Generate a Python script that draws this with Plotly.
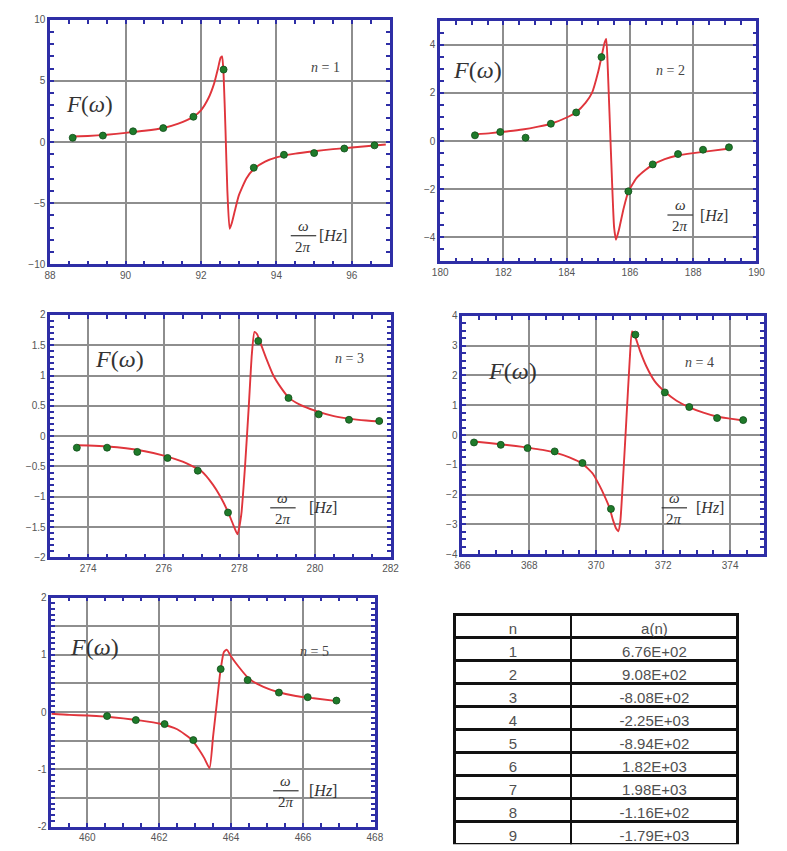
import plotly.graph_objects as go

W, H = 787, 851

# ---------------- data ----------------
# measured points (green) and fitted response curve (red) for each mode n

n1_pts_x = [88.6, 89.4, 90.2, 91.0, 91.8, 92.6, 93.4, 94.2, 95.0, 95.8, 96.6]
n1_pts_y = [0.35, 0.53, 0.88, 1.14, 2.07, 5.93, -2.1, -1.04, -0.9, -0.53, -0.27]
n1_fit_x = [88.6, 89.0, 89.5, 90.0, 90.5, 91.0, 91.4, 91.8, 92.0, 92.2, 92.35, 92.45,
            92.52, 92.56, 92.6, 92.65, 92.7, 92.76, 92.82, 92.9, 93.0, 93.2, 93.4,
            93.7, 94.0, 94.5, 95.0, 95.5, 96.0, 96.6, 96.9]
n1_fit_y = [0.45, 0.5, 0.6, 0.75, 0.92, 1.15, 1.5, 2.08, 2.6, 3.6, 4.8, 6.0,
            6.9, 7.0, 5.5, 1.0, -4.0, -7.1, -6.6, -5.6, -4.4, -3.0, -2.2,
            -1.6, -1.25, -0.95, -0.75, -0.58, -0.45, -0.28, -0.2]

n2_pts_x = [181.1, 181.9, 182.7, 183.5, 184.3, 185.1, 185.95, 186.72, 187.52, 188.31, 189.13]
n2_pts_y = [0.24, 0.38, 0.14, 0.72, 1.19, 3.49, -2.09, -0.97, -0.54, -0.36, -0.26]
n2_fit_x = [181.1, 181.6, 182.1, 182.6, 183.1, 183.5, 184.0, 184.3, 184.6, 184.8,
            185.0, 185.1, 185.2, 185.25, 185.3, 185.4, 185.5, 185.56, 185.65, 185.8,
            185.95, 186.2, 186.4, 186.7, 187.1, 187.5, 188.0, 188.5, 189.1]
n2_fit_y = [0.28, 0.33, 0.4, 0.48, 0.6, 0.72, 0.98, 1.2, 1.6, 2.0,
            2.9, 3.5, 4.1, 4.25, 3.0, -0.5, -3.6, -4.1, -3.7, -2.8,
            -2.1, -1.55, -1.3, -1.0, -0.75, -0.6, -0.5, -0.42, -0.32]

n3_pts_x = [273.7, 274.5, 275.3, 276.1, 276.9, 277.7, 278.5, 279.3, 280.1, 280.9, 281.7]
n3_pts_y = [-0.19, -0.19, -0.26, -0.36, -0.57, -1.26, 1.57, 0.63, 0.36, 0.27, 0.25]
n3_fit_x = [273.7, 274.0, 274.5, 275.0, 275.5, 276.0, 276.5, 277.0, 277.3, 277.5,
            277.7, 277.85, 277.95, 278.05, 278.15, 278.25, 278.33, 278.4, 278.47,
            278.55, 278.7, 278.9, 279.1, 279.3, 279.6, 280.0, 280.5, 281.0, 281.5, 281.8]
n3_fit_y = [-0.15, -0.155, -0.17, -0.2, -0.25, -0.32, -0.42, -0.58, -0.8, -1.0,
            -1.25, -1.48, -1.62, -1.3, -0.5, 0.5, 1.35, 1.72, 1.68,
            1.55, 1.3, 1.0, 0.8, 0.64, 0.52, 0.42, 0.33, 0.28, 0.25, 0.24]

n4_pts_x = [366.35, 367.15, 367.95, 368.76, 369.59, 370.44, 371.17, 372.05, 372.78, 373.61, 374.39]
n4_pts_y = [-0.25, -0.33, -0.44, -0.55, -0.94, -2.48, 3.37, 1.43, 0.94, 0.57, 0.5]
n4_fit_x = [366.35, 366.8, 367.2, 367.6, 368.0, 368.4, 368.8, 369.2, 369.6, 369.9,
            370.1, 370.25, 370.4, 370.5, 370.6, 370.66, 370.72, 370.8, 370.9, 371.0,
            371.07, 371.15, 371.3, 371.5, 371.75, 372.05, 372.4, 372.8, 373.2, 373.6,
            374.0, 374.45]
n4_fit_y = [-0.22, -0.27, -0.32, -0.37, -0.43, -0.5, -0.6, -0.75, -0.97, -1.3,
            -1.7, -2.05, -2.45, -2.85, -3.15, -3.23, -2.9, -1.5, 0.5, 2.5,
            3.48, 3.35, 2.85, 2.3, 1.8, 1.45, 1.15, 0.92, 0.75, 0.62,
            0.55, 0.48]

n5_pts_x = [460.55, 461.35, 462.15, 462.95, 463.71, 464.46, 465.33, 466.13, 466.93]
n5_pts_y = [-0.07, -0.14, -0.21, -0.49, 0.75, 0.56, 0.34, 0.26, 0.2]
n5_fit_x = [459.0, 459.5, 460.0, 460.5, 461.0, 461.5, 462.0, 462.5, 462.9, 463.1,
            463.25, 463.4, 463.5, 463.6, 463.7, 463.8, 463.88, 464.0, 464.2, 464.5,
            464.9, 465.3, 465.8, 466.3, 466.95]
n5_fit_y = [-0.03, -0.05, -0.06, -0.08, -0.11, -0.15, -0.2, -0.3, -0.48, -0.65,
            -0.8, -0.98, -0.42, 0.14, 0.7, 1.05, 1.09, 0.97, 0.8, 0.58,
            0.44, 0.35, 0.28, 0.24, 0.19]

# coefficient table
table_n = ["1", "2", "3", "4", "5", "6", "7", "8", "9"]
table_a = ["6.76E+02", "9.08E+02", "-8.08E+02", "-2.25E+03", "-8.94E+02",
           "1.82E+03", "1.98E+03", "-1.16E+02", "-1.79E+03"]

# ---------------- styling ----------------
FRAME = "#2e2ea6"
GRID = "#8e8e8e"
RED = "#e0353c"
GREEN = "#1f7a2a"
TICKFONT = dict(family="Liberation Sans, Arial", size=10, color="#555555")
SERIF = "Liberation Serif, Times New Roman, serif"
TABLEFONT = dict(family="Liberation Sans, Arial", size=15, color="#505050")


def px_x(p):
    return p / W


def px_y(p):
    return 1 - p / H


def label(x, y, text, size, color="#333333"):
    return dict(x=px_x(x), y=px_y(y), xref="paper", yref="paper", text=text,
                showarrow=False, xanchor="center", yanchor="middle",
                font=dict(family=SERIF, size=size, color=color))


# panel frames in pixels: (left, right, top, bottom)
panels = [
    dict(n=1, box=(43, 390, 14, 262), xr=[88, 97], yr=[-10, 10],
         xt=[88, 90, 92, 94, 96], yt=[-10, -5, 0, 5, 10], ytt=None,
         xm=0.5, ym=1, px=n1_pts_x, py=n1_pts_y, fx=n1_fit_x, fy=n1_fit_y,
         F=(83, 100, 23), lab=(324, 62), frac=(302, 233, 332)),
    dict(n=2, box=(441.7, 765, 15, 259), xr=[180, 190], yr=[-5, 5],
         xt=[180, 182, 184, 186, 188, 190], yt=[-4, -2, 0, 2, 4], ytt=None,
         xm=0.5, ym=0.5, px=n2_pts_x, py=n2_pts_y, fx=n2_fit_x, fy=n2_fit_y,
         F=(480, 65, 24), lab=(677, 65), frac=(687, 212, 722)),
    dict(n=3, box=(43.3, 391, 313.3, 559.3), xr=[273, 282], yr=[-2, 2],
         xt=[274, 276, 278, 280, 282],
         yt=[-2, -1.5, -1, -0.5, 0, 0.5, 1, 1.5, 2], ytt=None,
         xm=0.5, ym=0.1, px=n3_pts_x, py=n3_pts_y, fx=n3_fit_x, fy=n3_fit_y,
         F=(114, 358, 24), lab=(349, 358), frac=(281, 509, 322)),
    dict(n=4, box=(464.3, 772.3, 314.3, 556), xr=[366, 375], yr=[-4, 4],
         xt=[366, 368, 370, 372, 374], yt=[-4, -3, -2, -1, 0, 1, 2, 3, 4], ytt=None,
         xm=0.5, ym=0.25, px=n4_pts_x, py=n4_pts_y, fx=n4_fit_x, fy=n4_fit_y,
         F=(516, 370, 24), lab=(707, 362), frac=(681, 509, 718)),
    dict(n=5, box=(44.3, 375, 600, 832.3), xr=[459, 468], yr=[-2, 2],
         xt=[460, 462, 464, 466, 468],
         yt=[-2, -1.5, -1, -0.5, 0, 0.5, 1, 1.5, 2],
         ytt=["-2", "", "-1", "", "0", "", "1", "", "2"],
         xm=0.5, ym=0.1, px=n5_pts_x, py=n5_pts_y, fx=n5_fit_x, fy=n5_fit_y,
         F=(88, 650, 24), lab=(313, 655), frac=(284, 796, 322)),
]

fig = go.Figure()
annotations = []
shapes = []
layout = {}

for i, p in enumerate(panels):
    k = "" if i == 0 else str(i + 1)
    xa, ya = "x" + k, "y" + k
    l, r, t, b = p["box"]

    fig.add_trace(go.Scatter(x=p["fx"], y=p["fy"], xaxis=xa, yaxis=ya, mode="lines",
                             line=dict(color=RED, width=1.9, shape="spline", smoothing=0.5),
                             showlegend=False, hoverinfo="skip"))
    fig.add_trace(go.Scatter(x=p["px"], y=p["py"], xaxis=xa, yaxis=ya, mode="markers",
                             marker=dict(color=GREEN, size=7,
                                         line=dict(color="#0f4d18", width=0.8)),
                             showlegend=False))

    common = dict(showline=True, linecolor=FRAME, linewidth=2.5, mirror="allticks",
                  ticks="inside", ticklen=4, tickwidth=2, tickcolor=FRAME,
                  showgrid=True, gridcolor=GRID, gridwidth=2, zeroline=False,
                  tickfont=TICKFONT, fixedrange=True)
    layout["xaxis" + k] = dict(common, domain=[px_x(l), px_x(r)], range=p["xr"],
                               anchor=ya, tickvals=p["xt"],
                               minor=dict(ticks="inside", ticklen=4, tickwidth=2,
                                          tickcolor=FRAME, dtick=p["xm"],
                                          tick0=p["xr"][0], showgrid=False))
    ycfg = dict(common, domain=[px_y(b), px_y(t)], range=p["yr"], anchor=xa,
                tickvals=p["yt"],
                minor=dict(ticks="inside", ticklen=4, tickwidth=2,
                           tickcolor=FRAME, dtick=p["ym"],
                           tick0=p["yr"][0], showgrid=False))
    if p["ytt"] is not None:
        ycfg["ticktext"] = p["ytt"]
    layout["yaxis" + k] = ycfg

    # F(omega) label
    fx_, fy_, fs = p["F"]
    annotations.append(label(fx_, fy_, "<i>F</i>(<i>ω</i>)", fs))
    # mode label
    lx, ly = p["lab"]
    annotations.append(label(lx, ly, "<i>n</i> = %d" % p["n"], 14, "#444444"))
    # frequency axis label:  omega / 2 pi  [Hz]
    cx, cy, hx = p["frac"]
    annotations.append(label(cx, cy - 10, "<i>ω</i>", 15))
    annotations.append(label(cx, cy + 11, "2<i>π</i>", 15))
    annotations.append(label(hx, cy, "[<i>Hz</i>]", 16))
    shapes.append(dict(type="line", xref="paper", yref="paper",
                       x0=px_x(cx - 13), x1=px_x(cx + 13), y0=px_y(cy), y1=px_y(cy),
                       line=dict(color="#333333", width=1.2)))

fig.add_trace(go.Table(
    domain=dict(x=[px_x(456.5), px_x(746)], y=[px_y(851), px_y(617)]),
    columnwidth=[119, 170],
    header=dict(values=["n", "a(n)"], height=23, align="center",
                fill_color="white", line=dict(color="#111111", width=2.5),
                font=TABLEFONT),
    cells=dict(values=[table_n, table_a], height=23, align="center",
               fill_color="white", line=dict(color="#111111", width=2.5),
               font=TABLEFONT),
))

fig.update_layout(width=W, height=H, margin=dict(l=0, r=0, t=0, b=0),
                  paper_bgcolor="white", plot_bgcolor="white",
                  annotations=annotations, shapes=shapes, **layout)

fig.write_html("out.html")
